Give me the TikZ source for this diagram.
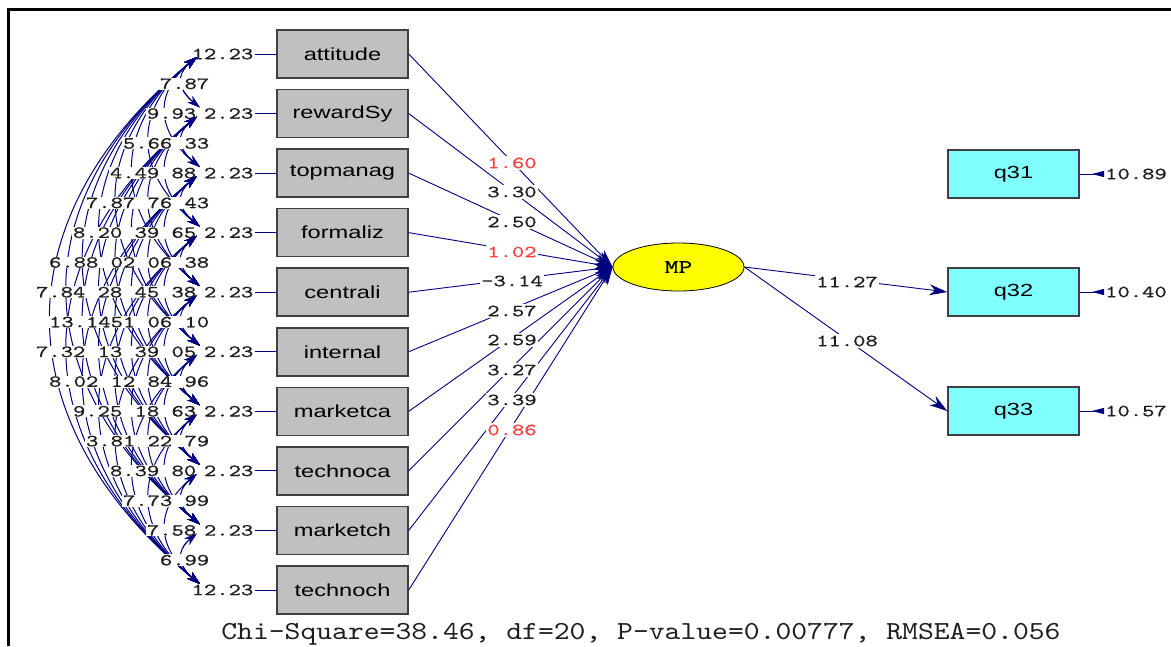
\documentclass[tikz,border=0pt]{standalone}
\usepackage{fontspec}
\newfontfamily\boxfont{Liberation Sans}[FakeStretch=1.35]
\newfontfamily\numfont{lmmono10-regular}[Extension=.otf,FakeStretch=1.38,FakeBold=0.8]
\newfontfamily\chifont{lmmono10-regular}[Extension=.otf,FakeStretch=1.16]
\usetikzlibrary{arrows.meta,calc,shapes.geometric}
\definecolor{navy}{RGB}{0,0,128}
\definecolor{boxgray}{RGB}{192,192,192}
\definecolor{qcyan}{RGB}{128,255,255}
\definecolor{redlab}{RGB}{255,64,64}
\definecolor{mpyellow}{RGB}{255,255,0}
\definecolor{labdark}{RGB}{30,30,30}
\newcommand\drawcovarcs{%
  \foreach \i in {1,...,9}{%
    \pgfmathtruncatemacro\ii{\i+1}%
    \foreach \j in {\ii,...,10}{%
      \pgfmathsetmacro\dd{(\j-\i)*59.55}%
      \pgfmathsetmacro\aa{0.367*\dd}%
      \pgfmathsetmacro\bb{0.3*\dd}%
      \draw[cov] (cu\i) .. controls ($(cu\i)+(-\aa,\bb)$) and ($(cl\j)+(-\aa,-\bb)$) .. (cl\j);
    }%
  }%
}
\begin{document}
\begin{tikzpicture}[x=1pt,y=-1pt,
  obox/.style={draw=black!75, line width=1.5pt, fill=boxgray, minimum width=131pt, minimum height=48pt, inner sep=0pt, font={\boxfont\fontsize{17.5}{17.5}\selectfont}},
  qbox/.style={obox, fill=qcyan},
  num/.style={font={\numfont\fontsize{17}{17}\selectfont}, inner sep=1pt, text=labdark},
  covlab/.style={num, fill=white, inner sep=0.6pt, anchor=east},
  pathlab/.style={num, fill=white, inner sep=1.5pt},
  con/.style={draw=navy, line width=0.9pt},
  arr/.style={con, -{Stealth[length=18pt,width=11pt]}},
  cov/.style={draw=navy, line width=1pt, {Stealth[length=13pt,width=8pt]}-{Stealth[length=13pt,width=8pt]}},
  errarr/.style={con, -{Triangle[reversed,length=12pt,width=6pt]}}
]
\useasboundingbox (0,0) rectangle (1171,646);
\fill[white] (0,0) rectangle (1171,646);
% frame
\draw[black, line width=2.5pt] (8.5,646) -- (8.5,9.5) -- (1171,9.5);

% observed x boxes
\foreach \n/\t/\ev [count=\k] in {b1/attitude/12.23,b2/rewardSy/2.23,b3/topmanag/2.23,b4/formaliz/2.23,b5/centrali/2.23,b6/internal/2.23,b7/marketca/2.23,b8/technoca/2.23,b9/marketch/2.23,b10/technoch/12.23}{
  \pgfmathsetmacro\yy{54+(\k-1)*59.55}
  \node[obox] (\n) at (342.5,\yy) {\t};
  \node[num, anchor=east] (e\k) at (254.5,\yy) {\ev};
  \draw[con] (e\k.east) -- (\n.west);
  \coordinate (cu\k) at (197,\yy+3);
  \coordinate (cl\k) at (200,\yy-6);
}

% covariance arcs
\drawcovarcs

% covariance labels (as printed, overlapping)
\node[covlab] (c12) at (210,83.8) {7.87};
\node[covlab] (c23) at (210,143.4) {5.66 33};
\node[covlab] (c34) at (210,202.9) {7.87 76 43};
\node[covlab] (c45) at (210,262.5) {6.88 02 06 38};
\node[covlab] (c56) at (210,322.1) {13.1451 06 10};
\node[covlab] (c67) at (210,381.6) {8.02 12 84 96};
\node[covlab] (c78) at (210,441.1) {3.81 22 79};
\node[covlab] (c89) at (210,500.7) {7.73 99};
\node[covlab] (c910) at (210,560.2) {6.99};
\node[covlab] (r2) at (197,113.6) {9.93};
\node[covlab] (r3) at (197,173.1) {4.49 88};
\node[covlab] (r4) at (197,232.7) {8.20 39 65};
\node[covlab] (r5) at (197,292.2) {7.84 28 45 38};
\node[covlab] (r6) at (197,351.8) {7.32 13 39 05};
\node[covlab] (r7) at (197,411.3) {9.25 18 63};
\node[covlab] (r8) at (197,470.9) {8.39 80};
\node[covlab] (r9) at (197,530.4) {7.58};

% arrowheads drawn again over the labels near the ends
\begin{scope}
  \clip (183,0) rectangle (214,646);
  \drawcovarcs
\end{scope}

% latent variable
\node[ellipse, draw=black, line width=0.8pt, fill=mpyellow, minimum width=131pt, minimum height=48pt, inner sep=0pt, font={\numfont\fontsize{19}{19}\selectfont}] (mp) at (678.5,267) {MP};

\foreach \k in {1,...,10}{
  \draw[arr] (b\k.east) -- (mp.west);
}

\node[pathlab, text=redlab] (p1) at (512,163) {1.60};
\node[pathlab] (p2) at (512,192) {3.30};
\node[pathlab] (p3) at (512,222) {2.50};
\node[pathlab, text=redlab] (p4) at (512,252) {1.02};
\node[pathlab] (p5) at (512,281) {-3.14};
\node[pathlab] (p6) at (512,311) {2.57};
\node[pathlab] (p7) at (512,340) {2.59};
\node[pathlab] (p8) at (512,370) {3.27};
\node[pathlab] (p9) at (512,400) {3.39};
\node[pathlab, text=redlab] (p10) at (512,430) {0.86};

% y variables
\node[qbox] (q1) at (1013.5,174) {q31};
\node[qbox] (q2) at (1013.5,292) {q32};
\node[qbox] (q3) at (1013.5,411) {q33};

\draw[arr] (mp.east) -- (q2.west);
\draw[arr] (mp.east) -- (q3.west);
\node[pathlab] (l2) at (847,282) {11.27};
\node[pathlab] (l3) at (847,341) {11.08};

\node[num, anchor=west] (r1q) at (1104,174) {10.89};
\node[num, anchor=west] (r2q) at (1104,292) {10.40};
\node[num, anchor=west] (r3q) at (1104,411) {10.57};
\draw[errarr] (q1.east) -- (r1q.west);
\draw[errarr] (q2.east) -- (r2q.west);
\draw[errarr] (q3.east) -- (r3q.west);

\node[font={\chifont\fontsize{26}{26}\selectfont}, inner sep=0pt, text=labdark] (chi) at (641,634) {Chi-Square=38.46, df=20, P-value=0.00777, RMSEA=0.056};
\end{tikzpicture}
\end{document}
